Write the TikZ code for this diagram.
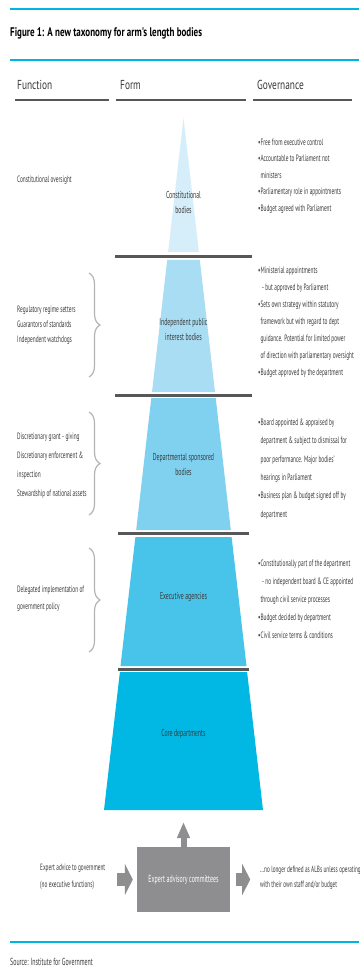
\documentclass[tikz,border=0pt]{standalone}
\usepackage{fontspec}
\setmainfont{PT Sans}[FakeStretch=0.58]
\newfontfamily\headfont{PT Sans}[FakeStretch=0.72]
\usepackage{xcolor}
\usetikzlibrary{arrows.meta,decorations.pathreplacing}
\definecolor{ALBCyan}{HTML}{00B5E2}
\definecolor{ALBTierA}{HTML}{D6EEFA}
\definecolor{ALBTierB}{HTML}{A9DDF3}
\definecolor{ALBTierC}{HTML}{80D0EF}
\definecolor{ALBTierD}{HTML}{48C4EA}
\definecolor{ALBTierE}{HTML}{00B8E3}
\definecolor{ALBRule}{HTML}{575757}
\definecolor{ALBText}{HTML}{3A3A3A}
\definecolor{ALBBrace}{HTML}{B4B4B4}
\definecolor{ALBGrey}{HTML}{8E8E90}

\begin{document}
\begin{tikzpicture}[x=1pt,y=-1pt,
  every node/.style={inner sep=0pt,text=ALBText},
  colhead/.style={anchor=west,font=\headfont\fontsize{13}{15}\selectfont},
  tierlabel/.style={align=center,font=\fontsize{10}{15}\selectfont},
  functext/.style={anchor=west,align=left,font=\fontsize{9.2}{15}\selectfont},
  govtext/.style={anchor=west,align=left,font=\fontsize{9.2}{17}\selectfont},
  brc/.style={ALBBrace,line width=1.2pt,decorate,decoration={brace,amplitude=11pt}}]
\path[use as bounding box] (0,0) rectangle (359,973);
\fill[white] (0,0) rectangle (359,973);
\draw[ALBCyan,line width=2pt] (10,9) -- (359,9);
\node[anchor=west,text=black,font=\headfont\bfseries\fontsize{12.5}{14}\selectfont] (title) at (10,33) {Figure 1: A new taxonomy for arm's length bodies};
\draw[ALBCyan,line width=2pt] (10,60) -- (359,60);
% column heads
\node[colhead] (hfunc) at (17,85) {Function};
\node[colhead] (hform) at (120,85) {Form};
\node[colhead] (hgov) at (257,85) {Governance};
\draw[ALBRule,line width=1.5pt] (15,100) -- (109,100);
\draw[ALBRule,line width=1.5pt] (116,100) -- (246,100);
\draw[ALBRule,line width=1.5pt] (253,100) -- (352,100);
% pyramid
\fill[ALBTierA] (183.5,118) -- (198.9,252) -- (168.1,252) -- cycle;
\fill[ALBTierB] (167.2,260) -- (199.8,260) -- (215.0,392) -- (152.0,392) -- cycle;
\fill[ALBTierC] (151.3,398) -- (215.7,398) -- (230.8,530) -- (136.2,530) -- cycle;
\fill[ALBTierD] (135.4,537) -- (231.6,537) -- (246.5,666) -- (120.5,666) -- cycle;
\fill[ALBTierE] (119.9,672) -- (247.1,672) -- (263,810) -- (104,810) -- cycle;
\draw[ALBRule,line width=3pt] (115,256.5) -- (252,256.5);
\draw[ALBRule,line width=3pt] (115,395) -- (252,395);
\draw[ALBRule,line width=3pt] (118,533.5) -- (249,533.5);
\draw[ALBRule,line width=3pt] (118,669) -- (249,669);
\node[tierlabel] (constb) at (183.5,203) {Constitutional\\bodies};
\node[tierlabel] (indep) at (183.5,330) {Independent public\\interest bodies};
\node[tierlabel] (dept) at (183.5,465) {Departmental sponsored\\bodies};
\node[tierlabel] (exec) at (183.5,597) {Executive agencies};
\node[tierlabel] (core) at (183.5,734) {Core departments};
% function column
\node[functext] (fconst) at (17,180) {Constitutional oversight};
\node[functext] (findep) at (17,325) {Regulatory regime setters\\Guarantors of standards\\Independent watchdogs};
\node[functext,font=\fontsize{9.2}{19}\selectfont] (fdept) at (17,466) {Discretionary grant - giving\\Discretionary enforcement \&\\inspection\\Stewardship of national assets};
\node[functext,font=\fontsize{9.2}{17}\selectfont] (fexec) at (17,598.5) {Delegated implementation of\\government policy};
\draw[brc] (89,273) -- (89,377);
\draw[brc] (89,412) -- (89,515);
\draw[brc] (89,548) -- (89,652);
% governance column
\node[govtext,font=\fontsize{9.2}{16.5}\selectfont] (gconst) at (258,176) {•Free from executive control\\•Accountable to Parliament not\\\phantom{•}ministers\\•Parliamentary role in appointments\\•Budget agreed with Parliament};
\node[govtext] (gindep) at (258,322.5) {•Ministerial appointments\\\phantom{•} - but approved by Parliament\\•Sets own strategy within statutory\\\phantom{•}framework but with regard to dept\\\phantom{•}guidance. Potential for limited power\\\phantom{•}of direction with parliamentary oversight\\•Budget approved by the department};
\node[govtext,font=\fontsize{9.2}{18.4}\selectfont] (gdept) at (258,469) {•Board appointed \& appraised by\\\phantom{•}department \& subject to dismissal for\\\phantom{•}poor performance. Major bodies'\\\phantom{•}hearings in Parliament\\•Business plan \& budget signed off by\\\phantom{•}department};
\node[govtext,font=\fontsize{9.2}{18}\selectfont] (gexec) at (258,599) {•Constitutionally part of the department\\\phantom{•} - no independent board \& CE appointed\\\phantom{•}through civil service processes\\•Budget decided by department\\•Civil service terms \& conditions};
% expert advisory committees
\node[fill=ALBGrey,minimum width=93pt,minimum height=65pt,text=white,font=\fontsize{10.2}{12}\selectfont] (adv) at (183.5,879.5) {Expert advisory committees};
\coordinate (pyrbase) at (183.5,810);
\draw[ALBGrey,line width=6pt,shorten >=12pt,-{Triangle[width=12pt,length=16pt]}] (adv.north) -- (pyrbase);
\draw[ALBGrey,line width=13pt,-{Triangle[width=31pt,length=8pt]}] ([xshift=-20pt]adv.west) -- ([xshift=-4pt]adv.west);
\draw[ALBGrey,line width=13pt,-{Triangle[width=31pt,length=8pt]}] ([xshift=6pt]adv.east) -- ([xshift=20pt]adv.east);
\node[functext,font=\fontsize{9.1}{17}\selectfont] (advin) at (40,877) {Expert advice to government\\(no executive functions)};
\node[functext,font=\fontsize{9}{15}\selectfont] (advout) at (260,877.5) {...no longer defined as ALBs unless operating\\with their own staff and/or budget};
\draw[ALBCyan,line width=2pt] (10,942) -- (359,942);
\node[anchor=west,font=\fontsize{10.2}{12}\selectfont] (src) at (10,962) {Source: Institute for Government};
\end{tikzpicture}
\end{document}
